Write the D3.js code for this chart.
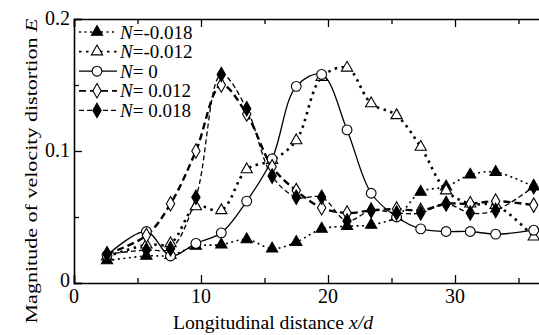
<!DOCTYPE html>
<html>
<head>
<meta charset="utf-8">
<script src="https://cdn.jsdelivr.net/npm/d3@7"></script>
<style>
  body { margin: 0; background: #fff; }
  svg { display: block; font-family: "Liberation Serif", "Times New Roman", serif; }
</style>
</head>
<body>
<div id="chart"></div>
<script>
// x positions of the measuring stations (x/d)
const stations = [2.6, 5.7, 7.6, 9.6, 11.6, 13.6, 15.6, 17.5, 19.5, 21.5, 23.4, 25.4, 27.3, 29.3, 31.2, 33.2, 36.2];

// E values, one array per N
const eNm018 = [0.017, 0.0205, 0.021, 0.028, 0.029, 0.033, 0.026, 0.031, 0.041, 0.043, 0.044, 0.050, 0.069, 0.073, 0.082, 0.084, 0.073];
const eNm012 = [0.020, 0.029, 0.030, 0.058, 0.055, 0.086, 0.093, 0.108, 0.156, 0.163, 0.136, 0.127, 0.103, 0.070, 0.060, 0.059, 0.035];
const eN0    = [0.021, 0.039, 0.0205, 0.030, 0.038, 0.062, 0.094, 0.149, 0.158, 0.116, 0.068, 0.050, 0.041, 0.039, 0.039, 0.037, 0.040];
const eN012  = [0.022, 0.036, 0.060, 0.100, 0.150, 0.128, 0.088, 0.070, 0.057, 0.053, 0.055, 0.056, 0.055, 0.060, 0.060, 0.062, 0.059];
const eN018  = [0.022, 0.025, 0.026, 0.065, 0.158, 0.132, 0.081, 0.065, 0.065, 0.047, 0.055, 0.053, 0.053, 0.060, 0.053, 0.055, 0.073];

const seriesLabels = ["-0.018", "-0.012", " 0", " 0.012", " 0.018"];
const xTicks = [0, 10, 20, 30];
const yTicks = [0, 0.1, 0.2];

const width = 539, height = 335;
const svg = d3.select("#chart").append("svg")
    .attr("width", width)
    .attr("height", height);

const x = d3.scaleLinear().domain([0, 40]).range([74, 582]);
const y = d3.scaleLinear().domain([0, 0.2]).range([283, 19]);

// styles per series
const styles = [
    {data: eNm018, sym: d3.symbolTriangle, size: 55, fill: "#000", dash: "2,3.5", sw: 1.6},
    {data: eNm012, sym: d3.symbolTriangle, size: 55, fill: "#fff", dash: "2.5,4.5", sw: 2.6},
    {data: eN0,    sym: d3.symbolCircle,   size: 75, fill: "#fff", dash: null,     sw: 1.3},
    {data: eN012,  sym: d3.symbolDiamond,  size: 60, fill: "#fff", dash: "7,4",    sw: 2.4},
    {data: eN018,  sym: d3.symbolDiamond,  size: 60, fill: "#000", dash: "5,3",    sw: 1.3}
];

const line = d3.line()
    .x(d => x(d[0]))
    .y(d => y(d[1]))
    .curve(d3.curveCatmullRom.alpha(0.5));

styles.forEach(s => {
    const pts = stations.map((xv, i) => [xv, s.data[i]]);
    svg.append("path")
        .datum(pts)
        .attr("fill", "none")
        .attr("stroke", "#000")
        .attr("stroke-width", s.sw)
        .attr("stroke-dasharray", s.dash)
        .attr("d", line);
});

styles.forEach(s => {
    const pts = stations.map((xv, i) => [xv, s.data[i]]);
    svg.append("g").selectAll("path")
        .data(pts)
        .enter().append("path")
        .attr("transform", d => "translate(" + x(d[0]) + "," + y(d[1]) + ")")
        .attr("d", d3.symbol().type(s.sym).size(s.size))
        .attr("fill", s.fill)
        .attr("stroke", "#000")
        .attr("stroke-width", 1.1);
});

// axes: ticks drawn inside the frame
const axisG = svg.append("g").attr("font-size", 20);

const xBottom = d3.axisBottom(x).tickValues(d3.range(0, 41, 5)).tickSize(-8).tickFormat("");
const gxb = svg.append("g").attr("transform", "translate(0,283)").call(xBottom);
gxb.selectAll(".tick line").attr("y2", (d) => d % 10 === 0 ? -8 : -5);
const gxt = svg.append("g").attr("transform", "translate(0,19)")
    .call(d3.axisTop(x).tickValues(d3.range(0, 41, 5)).tickSize(-8).tickFormat(""));
gxt.selectAll(".tick line").attr("y2", (d) => d % 10 === 0 ? 8 : 5);
const gyl = svg.append("g").attr("transform", "translate(74,0)")
    .call(d3.axisLeft(y).tickValues(d3.range(0, 0.201, 0.05)).tickSize(-8).tickFormat(""));
gyl.selectAll(".tick line").attr("x2", (d, i) => i % 2 === 0 ? 8 : 5);
[gxb, gxt, gyl].forEach(g => {
    g.select(".domain").attr("stroke-width", 1.6);
    g.selectAll(".tick line").attr("stroke-width", 1.3);
});

axisG.selectAll(".xl")
    .data(xTicks)
    .enter().append("text")
    .attr("x", d => x(d))
    .attr("y", 303)
    .attr("text-anchor", "middle")
    .text(d => d);

axisG.selectAll(".yl")
    .data(yTicks)
    .enter().append("text")
    .attr("x", 70)
    .attr("y", d => y(d) + (d === 0 ? -3 : -1))
    .attr("dy", "0.35em")
    .attr("text-anchor", "end")
    .text(d => d === 0 ? "0" : d.toFixed(1));

// axis titles
const xt = svg.append("text")
    .attr("x", 273).attr("y", 329)
    .attr("text-anchor", "middle")
    .attr("font-size", 18)
    .attr("textLength", 200)
    .attr("lengthAdjust", "spacingAndGlyphs");
xt.append("tspan").text("Longitudinal distance ");
xt.append("tspan").attr("font-style", "italic").text("x/d");

const yt = svg.append("text")
    .attr("transform", "translate(37,171) rotate(-90)")
    .attr("text-anchor", "middle")
    .attr("font-size", 17)
    .attr("textLength", 305)
    .attr("lengthAdjust", "spacingAndGlyphs");
yt.append("tspan").text("Magnitude of velocity distortion ");
yt.append("tspan").attr("font-style", "italic").text("E");

// legend
const legend = svg.append("g");
styles.forEach((s, i) => {
    const ly = 32 + i * 19.6;
    const row = legend.append("g").attr("transform", "translate(0," + ly + ")");
    row.append("line")
        .attr("x1", 79).attr("x2", 117)
        .attr("stroke", "#000")
        .attr("stroke-width", Math.min(s.sw, 1.8))
        .attr("stroke-dasharray", s.dash);
    row.append("path")
        .attr("transform", "translate(97,0)")
        .attr("d", d3.symbol().type(s.sym).size(s.size))
        .attr("fill", s.fill)
        .attr("stroke", "#000")
        .attr("stroke-width", 1.1);
    const t = row.append("text")
        .attr("x", 120).attr("dy", "0.35em")
        .attr("font-size", 19)
        .attr("xml:space", "preserve");
    t.append("tspan").attr("font-style", "italic").text("N");
    t.append("tspan").text("=" + seriesLabels[i]);
});
</script>
</body>
</html>
